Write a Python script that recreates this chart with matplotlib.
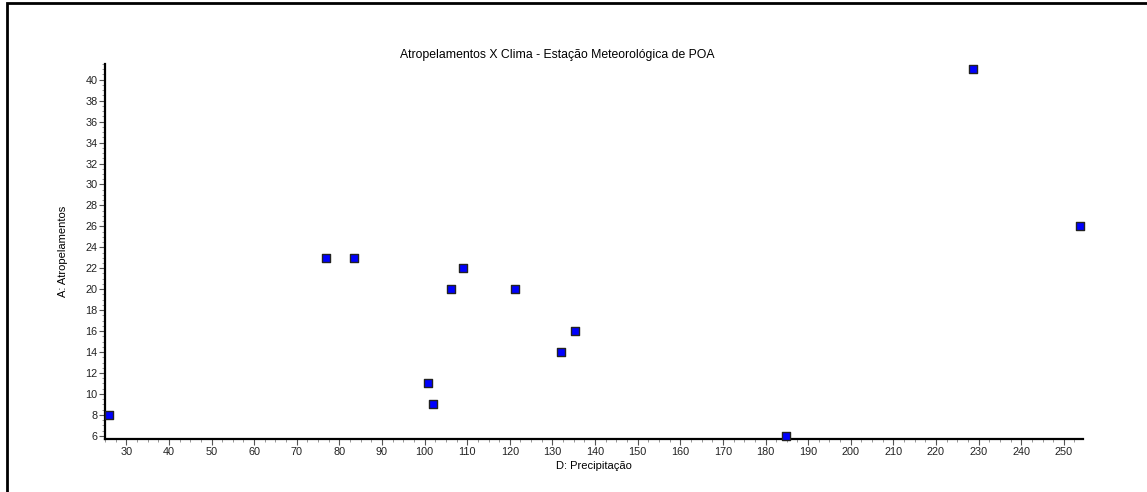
import matplotlib
matplotlib.use("Agg")
import matplotlib.pyplot as plt
from matplotlib.ticker import MultipleLocator
from matplotlib.patches import Rectangle

plt.rcParams['font.family'] = ['Liberation Sans', 'DejaVu Sans']

# precipitação (mm) x atropelamentos
precip = [26.0, 76.8, 83.5, 106.1, 109.0, 121.1, 100.8, 102.0, 131.9, 135.2, 184.7, 228.6, 253.7]
atrop = [8, 23, 23, 20, 22, 20, 11, 9, 14, 16, 6, 41, 26]

fig = plt.figure(figsize=(11.47, 4.92), dpi=100)
ax = fig.add_axes([105/1147, 1-439/492, (1083-105)/1147, (439-64)/492])

ax.scatter(precip, atrop, marker='s', s=36, c='#0000ff', edgecolors='#222222',
           linewidths=1.0, zorder=3, clip_on=False)

ax.set_xlim(25, 254.5)
ax.set_ylim(5.7, 41.5)
ax.xaxis.set_major_locator(MultipleLocator(10))
ax.xaxis.set_minor_locator(MultipleLocator(2.5))
ax.yaxis.set_major_locator(MultipleLocator(2))
ax.yaxis.set_minor_locator(MultipleLocator(0.5))

for s in ['top', 'right']:
    ax.spines[s].set_visible(False)
for s in ['left', 'bottom']:
    ax.spines[s].set_linewidth(1.6)
    ax.spines[s].set_color('black')

ax.tick_params(which='major', length=4, width=0.8, color='#555555', labelsize=7.8, pad=1.5,
               labelcolor='#222222')
ax.tick_params(which='minor', length=2, width=0.6, color='#888888')

ax.set_xlabel("D: Precipitação", fontsize=8, labelpad=3)
ax.set_ylabel("A: Atropelamentos", fontsize=8, labelpad=12)
fig.text(557/1147, 1-55/492, "Atropelamentos X Clima - Estação Meteorológica de POA",
         ha='center', va='center', fontsize=8.8)

fig.patches.append(Rectangle((7/1147, -0.1), 1.2, 1-3/492+0.1, transform=fig.transFigure,
                             fill=False, edgecolor='black', linewidth=2))

fig.savefig('out.png', dpi=100)
